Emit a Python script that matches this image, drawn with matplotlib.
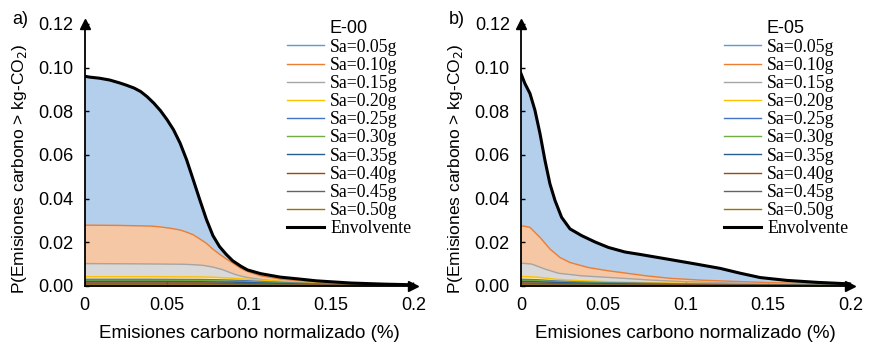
import numpy as np
import matplotlib
matplotlib.use('Agg')
import matplotlib.pyplot as plt

#
#  Data
#
labels = ['Sa=0.05g', 'Sa=0.10g', 'Sa=0.15g', 'Sa=0.20g', 'Sa=0.25g',
          'Sa=0.30g', 'Sa=0.35g', 'Sa=0.40g', 'Sa=0.45g', 'Sa=0.50g']

# panel a) E-00
xa_05 = [0, 0.003, 0.009, 0.015, 0.021, 0.025, 0.030, 0.034, 0.038, 0.042, 0.046,
         0.050, 0.054, 0.058, 0.062, 0.066, 0.070, 0.074, 0.078, 0.082, 0.086,
         0.090, 0.095, 0.099, 0.107, 0.119, 0.131, 0.141, 0.162, 0.182, 0.2]
ya_05 = [0.0960, 0.0956, 0.0951, 0.0943, 0.0930, 0.0920, 0.0906, 0.0890, 0.0866, 0.0837, 0.0803,
         0.0762, 0.0715, 0.0654, 0.0577, 0.0486, 0.0394, 0.0305, 0.0230, 0.0180, 0.0145,
         0.0115, 0.0090, 0.0073, 0.0056, 0.0040, 0.0031, 0.0023, 0.0013, 0.0008, 0.0005]
xa_10 = [0, 0.02, 0.04, 0.046, 0.052, 0.058, 0.062, 0.066, 0.070, 0.074, 0.078,
         0.082, 0.086, 0.090, 0.095, 0.100, 0.107, 0.120, 0.140, 0.160, 0.180, 0.2]
ya_10 = [0.0278, 0.0277, 0.0274, 0.0270, 0.0264, 0.0256, 0.0246, 0.0234, 0.0215, 0.0195, 0.0168,
         0.0145, 0.0124, 0.0105, 0.0080, 0.0063, 0.0046, 0.0030, 0.0018, 0.0011, 0.0007, 0.0004]
xa_15 = [0, 0.03, 0.06, 0.066, 0.072, 0.078, 0.084, 0.088, 0.092, 0.096, 0.100,
         0.110, 0.120, 0.140, 0.160, 0.180, 0.2]
ya_15 = [0.0102, 0.0101, 0.0099, 0.0097, 0.0094, 0.0086, 0.0074, 0.0062, 0.0051, 0.0043, 0.0037,
         0.0027, 0.0020, 0.0012, 0.0007, 0.0005, 0.0003]
xa_lo = [0, 0.04, 0.07, 0.08, 0.09, 0.10, 0.11, 0.13, 0.15, 0.2]
ya_20 = [0.0042, 0.0042, 0.0041, 0.0039, 0.0035, 0.0030, 0.0025, 0.0016, 0.0010, 0.0003]
ya_25 = [0.0030, 0.0030, 0.0029, 0.0028, 0.0026, 0.0023, 0.0019, 0.0013, 0.0008, 0.0002]
ya_30 = [0.0025, 0.0025, 0.0024, 0.0023, 0.0021, 0.0019, 0.0016, 0.0011, 0.0007, 0.0002]
ya_35 = [0.0020, 0.0020, 0.0019, 0.0018, 0.0017, 0.0015, 0.0013, 0.0009, 0.0006, 0.0002]
ya_40 = [0.0013, 0.0013, 0.0013, 0.0012, 0.0011, 0.0010, 0.0009, 0.0006, 0.0004, 0.0001]
ya_45 = [0.0008, 0.0008, 0.0008, 0.0008, 0.0007, 0.0007, 0.0006, 0.0004, 0.0003, 0.0001]
ya_50 = [0.0004, 0.0004, 0.0004, 0.0004, 0.0004, 0.0003, 0.0003, 0.0002, 0.0002, 0.0001]

# panel b) E-05
xb_05 = [0, 0.0024, 0.0055, 0.0085, 0.0116, 0.0146, 0.0176, 0.0207, 0.0247, 0.0298,
         0.0369, 0.045, 0.0531, 0.0632, 0.0723, 0.0886, 0.1047, 0.121, 0.1331, 0.1453,
         0.1615, 0.18, 0.2]
yb_05 = [0.0973, 0.0927, 0.0881, 0.0805, 0.0697, 0.0575, 0.0468, 0.0391, 0.0314, 0.0261,
         0.0230, 0.0201, 0.0176, 0.0155, 0.0144, 0.0123, 0.0102, 0.0080, 0.0058, 0.0038,
         0.0025, 0.0016, 0.0009]
xb_10 = [0, 0.0055, 0.0116, 0.0176, 0.0237, 0.0298, 0.0409, 0.0531, 0.0632, 0.075,
         0.09, 0.11, 0.15, 0.2]
yb_10 = [0.0276, 0.0268, 0.0222, 0.0169, 0.0130, 0.0107, 0.0084, 0.0069, 0.0059, 0.0047,
         0.0035, 0.0026, 0.0015, 0.0007]
xb_15 = [0, 0.0065, 0.0146, 0.0227, 0.0369, 0.057, 0.08, 0.1, 0.15, 0.2]
yb_15 = [0.0104, 0.0100, 0.0077, 0.0058, 0.0046, 0.0037, 0.0026, 0.0019, 0.0009, 0.0004]
xb_lo = [0, 0.01, 0.02, 0.035, 0.05, 0.075, 0.1, 0.15, 0.2]
yb_20 = [0.0043, 0.0040, 0.0031, 0.0024, 0.0020, 0.0015, 0.0012, 0.0007, 0.0003]
yb_25 = [0.0030, 0.0028, 0.0023, 0.0018, 0.0015, 0.0012, 0.0009, 0.0005, 0.0002]
yb_30 = [0.0025, 0.0024, 0.0020, 0.0016, 0.0013, 0.0010, 0.0008, 0.0005, 0.0002]
yb_35 = [0.0020, 0.0019, 0.0016, 0.0013, 0.0011, 0.0008, 0.0006, 0.0004, 0.0002]
yb_40 = [0.0013, 0.0012, 0.0011, 0.0009, 0.0007, 0.0006, 0.0005, 0.0003, 0.0001]
yb_45 = [0.0008, 0.0008, 0.0007, 0.0006, 0.0005, 0.0004, 0.0003, 0.0002, 0.0001]
yb_50 = [0.0004, 0.0004, 0.0004, 0.0003, 0.0003, 0.0002, 0.0002, 0.0001, 0.0001]

y_ticks = [0.00, 0.02, 0.04, 0.06, 0.08, 0.10, 0.12]
x_ticks = [0, 0.05, 0.1, 0.15, 0.2]
x_ticklabels = ['0', '0.05', '0.1', '0.15', '0.2']

line_colors = ['#5B9BD5', '#ED7D31', '#A5A5A5', '#FFC000', '#4472C4',
               '#70AD47', '#255E91', '#9E480E', '#636363', '#997300']
fill_colors = ['#B4CFEC', '#F6C7A4', '#D9D9D9', '#FFE699', '#B4C7E7',
               '#A9D18E', '#7FA3C6', '#C9A184', '#A6A6A6', '#C9B373']

panels = [
    ('a)', 'E-00',
     [(xa_05, ya_05), (xa_10, ya_10), (xa_15, ya_15), (xa_lo, ya_20), (xa_lo, ya_25),
      (xa_lo, ya_30), (xa_lo, ya_35), (xa_lo, ya_40), (xa_lo, ya_45), (xa_lo, ya_50)]),
    ('b)', 'E-05',
     [(xb_05, yb_05), (xb_10, yb_10), (xb_15, yb_15), (xb_lo, yb_20), (xb_lo, yb_25),
      (xb_lo, yb_30), (xb_lo, yb_35), (xb_lo, yb_40), (xb_lo, yb_45), (xb_lo, yb_50)]),
]

sans = 'Liberation Sans'
serif = 'Liberation Serif'

fig = plt.figure(figsize=(8.74, 3.56), dpi=100)
axes = [fig.add_axes([0.097, 0.197, 0.376, 0.736]),
        fig.add_axes([0.596, 0.197, 0.377, 0.736])]

for ax, (tag, name, series) in zip(axes, panels):
    # Areas first (largest in the back), then the thin lines on top
    for (xs, ys), fc in zip(series, fill_colors):
        ax.fill_between(xs, 0, ys, color=fc, linewidth=0)
    handles = []
    for (xs, ys), lc, lab in zip(series, line_colors, labels):
        h, = ax.plot(xs, ys, color=lc, linewidth=1.0, label=lab)
        handles.append(h)
    # The envelope is the top curve (Sa=0.05g)
    xs, ys = series[0]
    h, = ax.plot(xs, ys, color='black', linewidth=2.2, label='Envolvente')
    handles.append(h)

    ax.set_xlim(0, 0.2)
    ax.set_ylim(0, 0.12)
    ax.set_yticks(y_ticks)
    ax.set_yticklabels(['%.2f' % v for v in y_ticks], family=sans, fontsize=13)
    ax.set_xticks(x_ticks)
    ax.set_xticklabels(x_ticklabels, family=sans, fontsize=13)
    ax.tick_params(direction='in', length=3, width=1, pad=8)
    ax.spines['top'].set_visible(False)
    ax.spines['right'].set_visible(False)
    ax.spines['left'].set_linewidth(1.3)
    ax.spines['bottom'].set_linewidth(1.3)
    ax.plot(1, 0, '>k', markersize=7, transform=ax.transAxes, clip_on=False)
    ax.plot(0, 1, '^k', markersize=7, transform=ax.transAxes, clip_on=False)

    ax.set_xlabel('Emisiones carbono normalizado (%)', family=sans, fontsize=13.5, labelpad=8)
    ax.set_ylabel('P(Emisiones carbono > kg-CO$_2$)', family=sans, fontsize=12.5)
    ax.yaxis.set_label_coords(-0.17, 0.445)
    ax.text(-0.22, 1.015, tag, transform=ax.transAxes, family=sans, fontsize=13,
            va='center', ha='left')

    leg = ax.legend(handles=handles, loc='upper right', bbox_to_anchor=(1.015, 1.04),
                    frameon=False, title=name, prop={'family': serif, 'size': 12.8},
                    handlelength=2.1, handletextpad=0.35, labelspacing=0.065,
                    borderaxespad=0.0)
    leg.get_title().set_fontfamily(sans)
    leg.get_title().set_fontsize(13)

fig.savefig('out.png', dpi=100)
